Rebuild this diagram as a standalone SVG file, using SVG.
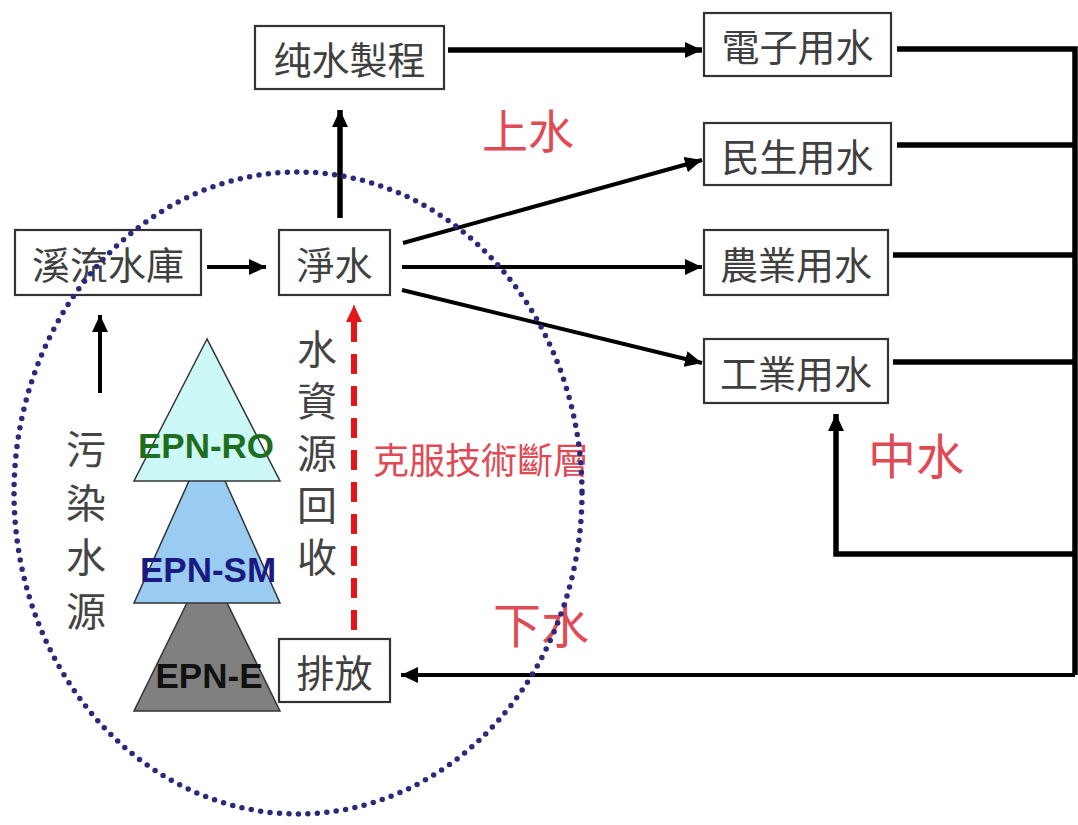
<svg xmlns="http://www.w3.org/2000/svg" width="1078" height="825" viewBox="0 0 1078 825">
<style>
.box{fill:#fff;stroke:#333;stroke-width:2.2}
.bt{font-family:"Noto Sans CJK TC","Noto Sans CJK SC",sans-serif;font-size:38px;fill:#404040;text-anchor:middle;dominant-baseline:central}
.vt{font-family:"Noto Sans CJK TC","Noto Sans CJK SC",sans-serif;font-size:40px;fill:#444;writing-mode:vertical-rl;text-anchor:start}
.rt{font-family:"Noto Sans CJK TC","Noto Sans CJK SC",sans-serif;fill:#e04a55;text-anchor:middle;dominant-baseline:central}
.ln{fill:none;stroke:#000;stroke-width:4}
.lt{fill:none;stroke:#000;stroke-width:5.5}
.epn{font-family:"Liberation Sans",Arial,sans-serif;font-weight:bold;font-size:35px;text-anchor:middle}
.tri{stroke:#333;stroke-width:1.5}
</style>
<defs>
<marker id="ah" markerUnits="userSpaceOnUse" markerWidth="18" markerHeight="16" refX="17" refY="8" orient="auto">
<path d="M0,0 L17,8 L0,16 z" fill="#000"/>
</marker>
<marker id="ahr" markerUnits="userSpaceOnUse" markerWidth="18" markerHeight="16" refX="17" refY="8" orient="auto">
<path d="M0,0 L17,8 L0,16 z" fill="#e01818"/>
</marker>
</defs>
<rect width="1078" height="825" fill="#fff"/>

<g id="pyramid">
<polygon class="tri" points="207,562 134,711 280,711" fill="#808080"/>
<polygon class="tri" points="207,441 134,603 280,603" fill="#99ccf0"/>
<polygon class="tri" points="207,339 134,481 280,481" fill="#ccf8f8"/>
<text class="epn" x="206" y="458" fill="#1e6e1e">EPN-RO</text>
<text class="epn" x="208" y="582" fill="#1a1a80">EPN-SM</text>
<text class="epn" x="209" y="688" fill="#111">EPN-E</text>
</g>

<g id="connectors">
<line class="ln" x1="207" y1="267" x2="266" y2="267" marker-end="url(#ah)"/>
<line class="lt" x1="340" y1="218" x2="340" y2="110" marker-end="url(#ah)"/>
<line class="lt" x1="448" y1="50" x2="702" y2="50" marker-end="url(#ah)"/>
<line class="ln" x1="403" y1="243" x2="702" y2="160" marker-end="url(#ah)"/>
<line class="ln" x1="402" y1="267" x2="702" y2="267" marker-end="url(#ah)"/>
<line class="ln" x1="402" y1="290" x2="702" y2="363" marker-end="url(#ah)"/>
<polyline class="lt" points="897,49 1075,49 1075,675"/>
<line class="lt" x1="897" y1="145" x2="1075" y2="145"/>
<line class="lt" x1="893" y1="255" x2="1075" y2="255"/>
<line class="lt" x1="893" y1="362" x2="1075" y2="362"/>
<line class="ln" x1="1075" y1="675" x2="401" y2="675" marker-end="url(#ah)"/>
<polyline class="lt" points="1075,554 836,554 836,414" marker-end="url(#ah)"/>
<line class="ln" x1="100" y1="393" x2="100" y2="315" marker-end="url(#ah)"/>
<line x1="354" y1="630" x2="354" y2="322" stroke="#e01818" stroke-width="6" stroke-dasharray="20 12"/>
<line x1="354" y1="325" x2="354" y2="305" stroke="#e01818" stroke-width="1" marker-end="url(#ahr)"/>
</g>

<g id="node-chunshui"><rect class="box" x="255" y="26" width="189" height="63"/><text class="bt" x="349.5" y="57.5">纯水製程</text></g>
<g id="node-xiliu"><rect class="box" x="15" y="230" width="186" height="65"/><text class="bt" x="108" y="262.5">溪流水庫</text></g>
<g id="node-jingshui"><rect class="box" x="279" y="230" width="111" height="65"/><text class="bt" x="334.5" y="262.5">淨水</text></g>
<g id="node-dianzi"><rect class="box" x="704" y="13" width="187" height="63"/><text class="bt" x="797.5" y="44.5">電子用水</text></g>
<g id="node-minsheng"><rect class="box" x="704" y="123" width="187" height="62"/><text class="bt" x="797.5" y="154">民生用水</text></g>
<g id="node-nongye"><rect class="box" x="704" y="230" width="184" height="65"/><text class="bt" x="796" y="262.5">農業用水</text></g>
<g id="node-gongye"><rect class="box" x="704" y="339" width="184" height="64"/><text class="bt" x="796" y="371">工業用水</text></g>
<g id="node-paifang"><rect class="box" x="279" y="639" width="111" height="63"/><text class="bt" x="334.5" y="670.5">排放</text></g>

<g id="labels">
<text class="rt" x="528" y="128" font-size="46">上水</text>
<text class="rt" x="916" y="453" font-size="48">中水</text>
<text class="rt" x="541" y="622" font-size="48">下水</text>
<text class="rt" x="481" y="458" font-size="36">克服技術斷層</text>
<text class="vt" x="317" y="329" letter-spacing="12">水資源回收</text>
<text class="vt" x="86" y="429" letter-spacing="14">污染水源</text>
</g>

<g id="boundary">
<ellipse cx="298" cy="493" rx="284" ry="321" fill="none" stroke="#2a2a7a" stroke-width="5.5" stroke-linecap="round" stroke-dasharray="0 9.5"/>
</g>
</svg>
